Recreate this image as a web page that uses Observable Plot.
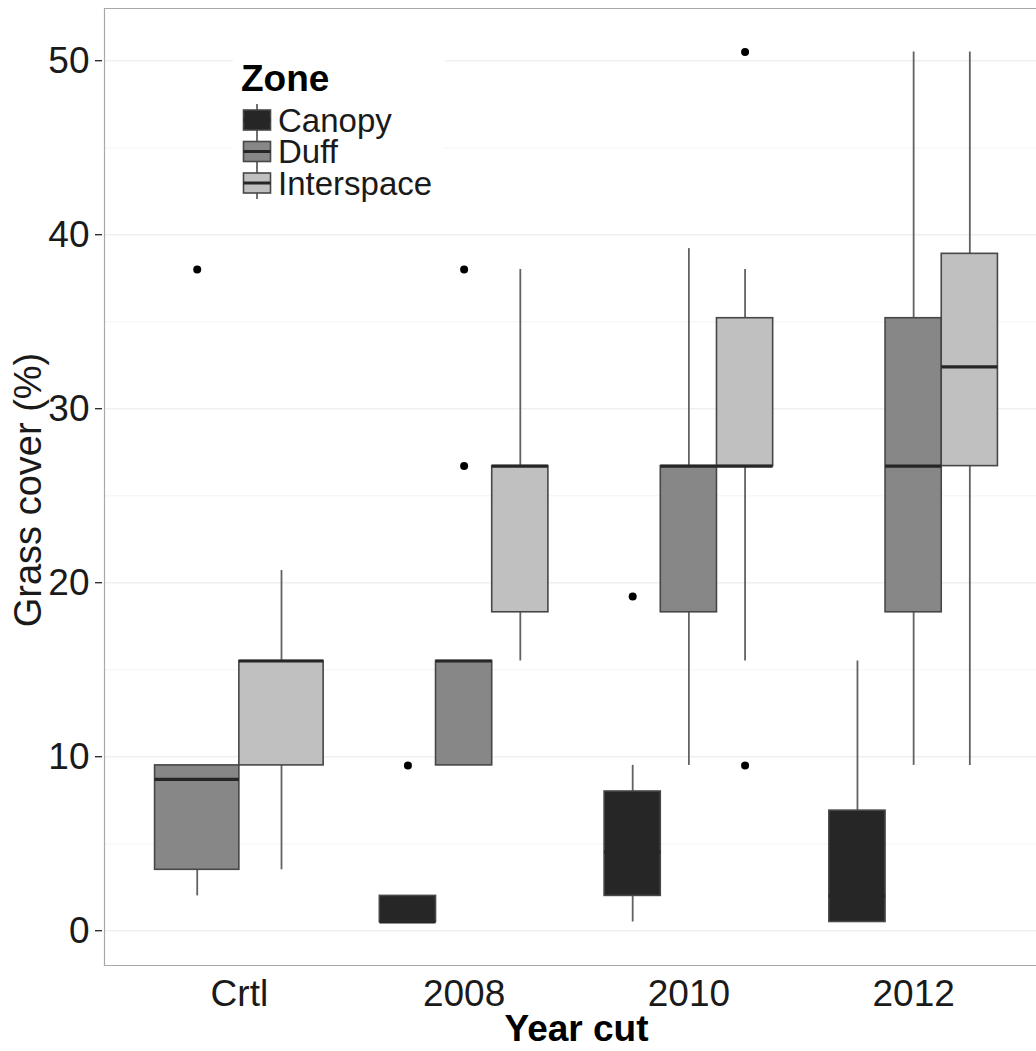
<!DOCTYPE html>
<html>
<head>
<meta charset="utf-8">
<script src="https://cdn.jsdelivr.net/npm/d3@7"></script>
<script src="https://cdn.jsdelivr.net/npm/@observablehq/plot@0.6"></script>
<style>
  html, body { margin: 0; padding: 0; background: #fff; }
  #chart { position: relative; width: 1036px; height: 1051px; overflow: hidden; }
  #legend { position: absolute; left: 233px; top: 48px; background: #fff; }
</style>
</head>
<body>
<div id="chart"></div>
<script>
// Categories
const years = ["Crtl", "2008", "2010", "2012"];
const zones = ["Canopy", "Duff", "Interspace"];
const zoneFill = ["#262626", "#878787", "#c0c0c0"];

// Box statistics, one entry per (year, zone) box
const boxYear  = ["Crtl", "Crtl",       "2008",   "2008", "2008",       "2010",   "2010", "2010",       "2012",   "2012", "2012"];
const boxZone  = ["Duff", "Interspace", "Canopy", "Duff", "Interspace", "Canopy", "Duff", "Interspace", "Canopy", "Duff", "Interspace"];
const whiskerLow  = [2.0, 3.5,  0.5, 9.5,  15.5, 0.5, 9.5,  15.5, 0.5, 9.5,  9.5];
const quartile1   = [3.5, 9.5,  0.5, 9.5,  18.3, 2.0, 18.3, 26.7, 0.5, 18.3, 26.7];
const medianValue = [8.7, 15.5, 0.5, 15.5, 26.7, 4.5, 26.7, 26.7, 2.0, 26.7, 32.4];
const quartile3   = [9.5, 15.5, 2.0, 15.5, 26.7, 8.0, 26.7, 35.2, 6.9, 35.2, 38.9];
const whiskerHigh = [9.5, 20.7, 2.0, 15.5, 38.0, 9.5, 39.2, 38.0, 15.5, 50.5, 50.5];

// Outlying observations
const outlierYear  = ["Crtl", "2008",   "2008", "2008", "2010",   "2010",       "2010"];
const outlierZone  = ["Duff", "Canopy", "Duff", "Duff", "Canopy", "Interspace", "Interspace"];
const outlierValue = [38.0,   9.5,      38.0,   26.7,   19.2,     50.5,         9.5];

// Y axis ticks and grid
const majorTicks = [0, 10, 20, 30, 40, 50];
const minorTicks = [5, 15, 25, 35, 45];

// Dodge: boxes within a year share 0.75 of the category step
const dodgeWidth = 0.75;
function slot(year, zone) {
  const present = zones.filter(z => boxYear.some((y, i) => y === year && boxZone[i] === z));
  const n = present.length;
  const k = present.indexOf(zone);
  const w = dodgeWidth / n;
  const x0 = years.indexOf(year) - dodgeWidth / 2 + k * w;
  return {x1: x0, x2: x0 + w, xc: x0 + w / 2};
}

const boxes = boxYear.map((yr, i) => {
  const s = slot(yr, boxZone[i]);
  return {
    year: yr, zone: boxZone[i], ...s,
    lo: whiskerLow[i], q1: quartile1[i], med: medianValue[i], q3: quartile3[i], hi: whiskerHigh[i]
  };
});
const outliers = outlierYear.map((yr, i) => ({...slot(yr, outlierZone[i]), value: outlierValue[i]}));

const fillOf = z => zoneFill[zones.indexOf(z)];
const font = "'Liberation Sans', Arial, Helvetica, sans-serif";

const chart = Plot.plot({
  width: 1036,
  height: 1051,
  marginLeft: 104,
  marginRight: 0,
  marginTop: 8,
  marginBottom: 86,
  style: {fontFamily: font, fontSize: "37px", color: "#1a1a1a", background: "#fff"},
  x: {type: "linear", domain: [-0.6, years.length - 0.4], range: [104, 1048]},
  y: {domain: [-2, 53], range: [965, 8]},
  marks: [
    Plot.ruleY(minorTicks, {stroke: "#f7f7f7", strokeWidth: 1.5}),
    Plot.ruleY(majorTicks, {stroke: "#f0f0f0", strokeWidth: 1.5}),
    // whiskers
    Plot.ruleX(boxes, {x: "xc", y1: "lo", y2: "q1", stroke: "#626262", strokeWidth: 1.8}),
    Plot.ruleX(boxes, {x: "xc", y1: "q3", y2: "hi", stroke: "#626262", strokeWidth: 1.8}),
    // boxes
    Plot.rect(boxes, {x1: "x1", x2: "x2", y1: "q1", y2: "q3", fill: d => fillOf(d.zone), stroke: "#474747", strokeWidth: 1.6}),
    // medians
    Plot.ruleY(boxes, {x1: "x1", x2: "x2", y: "med", stroke: "#262626", strokeWidth: 3.2}),
    // outliers
    Plot.dot(outliers, {x: "xc", y: "value", r: 4, fill: "#000", stroke: null}),
    Plot.frame({anchor: "left", stroke: "#a8a8a8", strokeWidth: 1.2}),
    Plot.frame({anchor: "top", stroke: "#a8a8a8", strokeWidth: 1.2}),
    Plot.frame({anchor: "bottom", stroke: "#a8a8a8", strokeWidth: 1.2}),
    Plot.axisY(majorTicks, {tickSize: 7, tickPadding: 6, dx: -2, label: null, stroke: "#222", strokeWidth: 1.3, fill: "#1a1a1a"}),
    Plot.axisX(years.map((_, i) => i), {tickSize: 0, tickPadding: 14, tickFormat: i => years[i], label: null, fill: "#1a1a1a"}),
    Plot.text(["Grass cover (%)"], {frameAnchor: "left", rotate: -90, dx: -64, dy: 3, lineAnchor: "bottom", textAnchor: "middle", fontSize: 38, fill: "#1a1a1a"}),
    Plot.text(["Year cut"], {frameAnchor: "bottom", dx: 6, dy: 75, lineAnchor: "bottom", textAnchor: "middle", fontSize: 37, fontWeight: "bold", fill: "#000"})
  ]
});
document.getElementById("chart").appendChild(chart);

// Legend
const lg = d3.select("#chart").append("svg")
  .attr("id", "legend")
  .attr("width", 212)
  .attr("height", 165)
  .style("font-family", font);
lg.append("text").attr("x", 8).attr("y", 43)
  .attr("font-size", 37).attr("font-weight", "bold").attr("fill", "#000")
  .text("Zone");
const rowY = [72, 103.5, 135];
zones.forEach((z, i) => {
  const g = lg.append("g").attr("transform", `translate(0,${rowY[i]})`);
  g.append("line").attr("x1", 24).attr("x2", 24).attr("y1", -16).attr("y2", 16)
    .attr("stroke", "#626262").attr("stroke-width", 1.8);
  g.append("rect").attr("x", 10.5).attr("y", -10).attr("width", 27).attr("height", 20)
    .attr("fill", zoneFill[i]).attr("stroke", "#474747").attr("stroke-width", 1.6);
  g.append("line").attr("x1", 10.5).attr("x2", 37.5).attr("y1", 0).attr("y2", 0)
    .attr("stroke", "#262626").attr("stroke-width", 3);
  g.append("text").attr("x", 45).attr("y", 0).attr("dy", "0.36em")
    .attr("font-size", 33).attr("fill", "#1a1a1a").text(z);
});
</script>
</body>
</html>
